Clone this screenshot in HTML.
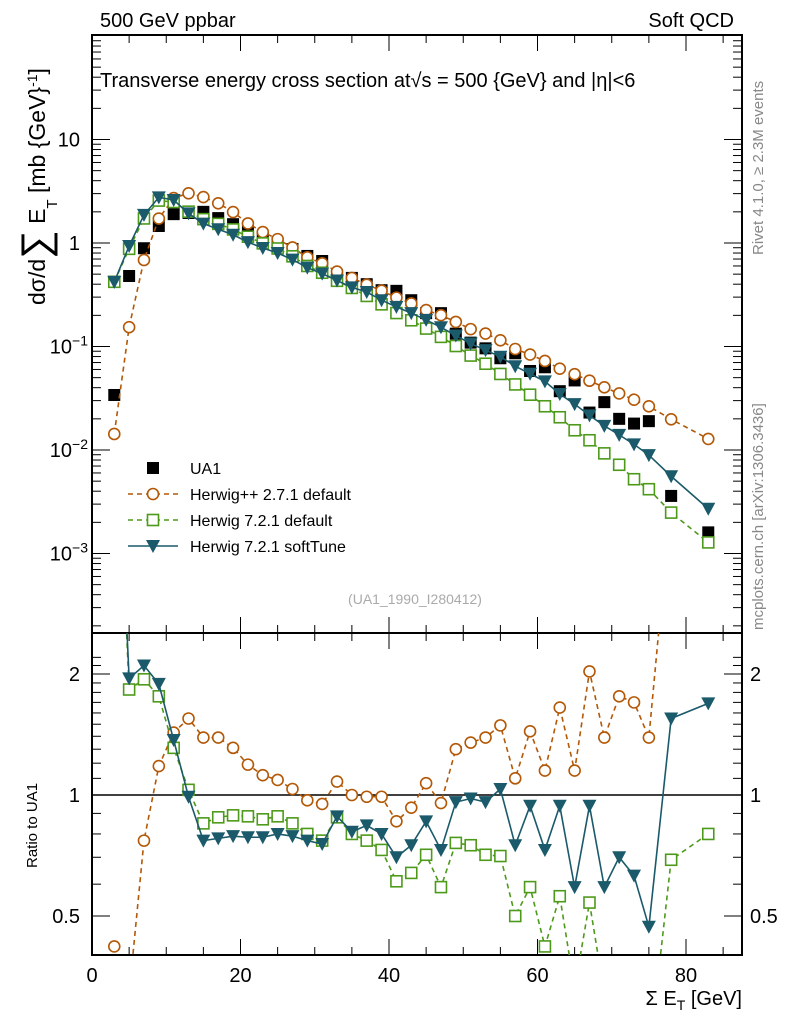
<!DOCTYPE html>
<html><head><meta charset="utf-8"><style>
body{margin:0;background:#fff;}
svg{display:block;font-family:"Liberation Sans",sans-serif;}
</style></head><body>
<svg id="chart" width="786" height="1024" viewBox="0 0 786 1024" xmlns="http://www.w3.org/2000/svg">
<text x="100" y="27" font-size="20">500 GeV ppbar</text>
<text x="734" y="27" font-size="20" text-anchor="end">Soft QCD</text>
<text x="100" y="87" font-size="20">Transverse energy cross section at√s = 500 {GeV} and |η|&lt;6</text>
<text transform="translate(763,255) rotate(-90)" font-size="15" fill="#888">Rivet 4.1.0, ≥ 2.3M events</text>
<text transform="translate(763,630) rotate(-90)" font-size="15" fill="#888">mcplots.cern.ch [arXiv:1306.3436]</text>
<text transform="translate(45,305) rotate(-90)" font-size="23">dσ/d<tspan font-size="40" dy="4">∑</tspan><tspan dy="-4"> E</tspan><tspan font-size="15" dy="12">T</tspan><tspan dy="-12"> [mb {GeV}</tspan><tspan font-size="14" dy="-8">-1</tspan><tspan dy="8">]</tspan></text>
<text transform="translate(37,868) rotate(-90)" font-size="15">Ratio to UA1</text>
<text x="742" y="1005" font-size="20" text-anchor="end">Σ E<tspan font-size="14" dy="5">T</tspan><tspan dy="-5"> [GeV]</tspan></text>
<text x="415" y="604" font-size="14" fill="#aaa" text-anchor="middle">(UA1_1990_I280412)</text>
<g id="g"></g>
</svg>
<script>
const xs=[3,5,7,9,11,13,15,17,19,21,23,25,27,29,31,33,35,37,39,41,43,45,47,49,51,53,55,57,59,61,63,65,67,69,71,73,75,78,83];
const ua1=[0.034,0.48,0.89,1.46,1.9,1.95,2.0,1.74,1.52,1.3,1.14,1.0,0.875,0.75,0.67,0.49,0.46,0.40,0.35,0.345,0.28,0.21,0.21,0.133,0.109,0.096,0.077,0.086,0.058,0.063,0.037,0.047,0.023,0.029,0.020,0.018,0.019,0.0036,0.0016];
const ratioHpp=[0.42,0.32,0.77,1.18,1.43,1.55,1.39,1.39,1.31,1.19,1.12,1.09,1.035,0.97,0.95,1.08,1.0,0.99,0.99,0.86,0.93,1.07,0.955,1.30,1.35,1.39,1.49,1.10,1.44,1.15,1.65,1.15,2.03,1.39,1.76,1.70,1.39,5.5,8.0];
const ratioH72=[12.4,1.83,1.94,1.76,1.31,1.03,0.85,0.88,0.89,0.885,0.87,0.885,0.85,0.80,0.77,0.88,0.80,0.77,0.73,0.61,0.64,0.71,0.59,0.76,0.75,0.71,0.705,0.50,0.59,0.42,0.56,0.33,0.54,0.32,0.36,0.29,0.22,0.69,0.80];
const ratioSoft=[12.4,1.95,2.1,1.89,1.37,0.99,0.77,0.78,0.79,0.785,0.785,0.80,0.79,0.77,0.755,0.885,0.81,0.84,0.80,0.70,0.75,0.86,0.73,0.96,0.98,0.96,1.035,0.75,0.94,0.73,0.94,0.59,0.94,0.59,0.70,0.63,0.47,1.55,1.69];
const xTicks=[0,20,40,60,80];
const yTopTicks=[{v:10,t:"10"},{v:1,t:"1"},{v:0.1,t:"10",e:"−1"},{v:0.01,t:"10",e:"−2"},{v:0.001,t:"10",e:"−3"}];
const yRatioTicks=[{v:2,t:"2"},{v:1,t:"1"},{v:0.5,t:"0.5"}];

const NS="http://www.w3.org/2000/svg";
const G=document.getElementById('g');
const L=92,R=742,T1=35,B1=633,T2=633,B2=955;
const X=v=>L+(v)*(686-92)/80;
const Y1=v=>243-103.5*Math.log10(v);
const Y2=v=>795-121*Math.log2(v);
function el(tag,attrs,parent){const e=document.createElementNS(NS,tag);for(const k in attrs)e.setAttribute(k,attrs[k]);(parent||G).appendChild(e);return e;}
const C_HPP="#b35806",C_H72="#4d9a1a",C_SOFT="#1a5a6a";

const defs=el('defs',{});
const c1=el('clipPath',{id:'c1'},defs);el('rect',{x:L,y:T1,width:R-L,height:B1-T1},c1);
const c2=el('clipPath',{id:'c2'},defs);el('rect',{x:L,y:T2,width:R-L,height:B2-T2},c2);

let f=el('rect',{x:L,y:T1,width:R-L,height:B1-T1,fill:'none',stroke:'#000','stroke-width':2});

f=el('rect',{x:L,y:T2,width:R-L,height:B2-T2,fill:'none',stroke:'#000','stroke-width':2});


for(let v=0;v<=87;v+=5){const px=X(v);const big=v%20===0;const len=big?16:8;
 for(const [t,b] of [[T1,B1],[T2,B2]]){el('line',{x1:px,x2:px,y1:b,y2:b-len,stroke:'#000'});el('line',{x1:px,x2:px,y1:t,y2:t+len,stroke:'#000'});}}
xTicks.forEach(v=>{const t=el('text',{x:X(v),y:982,'font-size':20,'text-anchor':'middle'});t.textContent=v;
 });

for(let d=-4;d<=1;d++){for(let m=1;m<10;m++){const v=m*Math.pow(10,d);const py=Y1(v);if(py<T1||py>B1)continue;const len=m===1?18:9;
 el('line',{x1:L,x2:L+len,y1:py,y2:py,stroke:'#000'});el('line',{x1:R,x2:R-len,y1:py,y2:py,stroke:'#000'});}}
yTopTicks.forEach(o=>{const t=el('text',{x:o.e?72:80,y:Y1(o.v)+7,'font-size':20,'text-anchor':'end'});t.textContent=o.t;
 if(o.e){const s=el('tspan',{'font-size':14,dy:-8},t);s.textContent=o.e;t.setAttribute('x',88);}
 });

[0.4,0.5,0.6,0.7,0.8,0.9,1,1.1,1.2,1.3,1.4,1.5,1.6,1.7,1.8,1.9,2,2.1,2.2].forEach(v=>{const py=Y2(v);if(py<T2||py>B2)return;const len=(v===0.5||v===1||v===2)?18:9;
 el('line',{x1:L,x2:L+len,y1:py,y2:py,stroke:'#000'});el('line',{x1:R,x2:R-len,y1:py,y2:py,stroke:'#000'});});
yRatioTicks.forEach(o=>{for(const [x,a] of [[80,'end'],[750,'start']]){const t=el('text',{x:x,y:Y2(o.v)+7,'font-size':20,'text-anchor':a});t.textContent=o.t;
 }});
el('line',{x1:L,x2:R,y1:Y2(1),y2:Y2(1),stroke:'#000','stroke-width':1.5});

function marker(kind,cx,cy,col,parent){
 if(kind==='circ')return el('circle',{cx,cy,r:5.5,fill:'#fff',stroke:col,'stroke-width':1.6},parent);
 if(kind==='sq')return el('rect',{x:cx-5.5,y:cy-5.5,width:11,height:11,fill:'#fff',stroke:col,'stroke-width':1.6},parent);
 if(kind==='tri')return el('path',{d:`M${cx-7},${cy-6}L${cx+7},${cy-6}L${cx},${cy+7}Z`,fill:col},parent);
 if(kind==='blk')return el('rect',{x:cx-6,y:cy-6,width:12,height:12,fill:'#000'},parent);
}
function series(vals,Yf,clip,col,dash,kind,name){
 const g=el('g',{'clip-path':`url(#${clip})`});
 
 if(col){const pts=vals.map((v,i)=>X(xs[i])+','+Yf(v)).join(' ');
  el('polyline',{points:pts,fill:'none',stroke:col,'stroke-width':1.6,'stroke-dasharray':dash||'none'},g);}
 vals.forEach((v,i)=>{const m=marker(kind,X(xs[i]),Yf(v),col||'#000',g);
  });
}
const hpp=ua1.map((v,i)=>v*ratioHpp[i]);
const h72=ua1.map((v,i)=>v*ratioH72[i]);
const soft=ua1.map((v,i)=>v*ratioSoft[i]);
series(ua1,Y1,'c1',null,null,'blk','ua1-data');
series(hpp,Y1,'c1',C_HPP,'5,4','circ','herwigpp-271-series');
series(h72,Y1,'c1',C_H72,'5,4','sq','herwig-721-default-series');
series(soft,Y1,'c1',C_SOFT,null,'tri','herwig-721-softtune-series');
series(ratioHpp,Y2,'c2',C_HPP,'5,4','circ','ratio-herwigpp-271');
series(ratioH72,Y2,'c2',C_H72,'5,4','sq','ratio-herwig-721-default');
series(ratioSoft,Y2,'c2',C_SOFT,null,'tri','ratio-herwig-721-softtune');

const leg=[['blk',null,null,'UA1'],['circ',C_HPP,'5,4','Herwig++ 2.7.1 default'],['sq',C_H72,'5,4','Herwig 7.2.1 default'],['tri',C_SOFT,null,'Herwig 7.2.1 softTune']];
leg.forEach((o,i)=>{const y=468+i*26;const g=el('g',{});
 
 if(o[1])el('line',{x1:128,x2:178,y1:y,y2:y,stroke:o[1],'stroke-width':1.6,'stroke-dasharray':o[2]||'none'},g);
 marker(o[0],153,y,o[1]||'#000',g);
 const t=el('text',{x:190,y:y+6,'font-size':16},g);t.textContent=o[3];});
</script>
</body></html>
